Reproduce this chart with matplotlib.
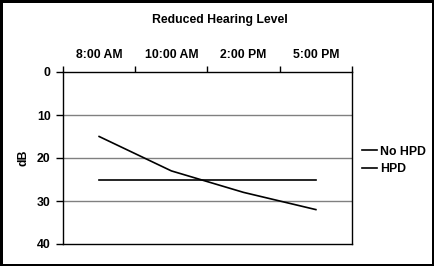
import matplotlib
matplotlib.use("Agg")
import matplotlib.pyplot as plt
import numpy as np

categories = ["8:00 AM", "10:00 AM", "2:00 PM", "5:00 PM"]
no_hpd = [15, 23, 28, 32]
hpd = [25, 25, 25, 25]
y_ticks = [0, 10, 20, 30, 40]

plt.rcParams['font.family'] = ['Liberation Sans', 'DejaVu Sans']
plt.rcParams['font.weight'] = 'bold'
fs = 8.8

fig = plt.figure(figsize=(4.34, 2.66), dpi=100)
fig.patch.set_edgecolor('black')
fig.patch.set_linewidth(2.5)
ax = fig.add_axes([63/434, 1-244/266, (352-63)/434, (244-72)/266])

x = np.arange(len(categories))
ax.plot(x, no_hpd, color='black', lw=1.2, label='No HPD')
ax.plot(x, hpd, color='black', lw=1.2, label='HPD')

ax.set_xlim(-0.5, len(categories)-0.5)
ax.set_ylim(40, 0)
ax.set_yticks(y_ticks)
ax.set_yticklabels([str(v) for v in y_ticks], fontsize=fs, fontweight='bold')
for v in y_ticks[1:-1]:
    ax.axhline(v, color='#808080', lw=1, zorder=0)

ax.xaxis.tick_top()
ax.set_xticks(np.arange(len(categories)+1)-0.5)
ax.set_xticklabels([])
ax.set_xticks(x, minor=True)
ax.set_xticklabels(categories, minor=True, fontsize=fs, fontweight='bold')
ax.tick_params(axis='x', which='major', length=4, width=1, direction='out')
ax.tick_params(axis='x', which='minor', length=0, pad=8)
ax.tick_params(axis='y', length=5, width=1, direction='out', pad=4)
for s in ax.spines.values():
    s.set_linewidth(1)
    s.set_color('black')

ax.set_ylabel('dB', fontsize=fs, fontweight='bold', labelpad=5)
fig.text(220/434, 1-20/266, 'Reduced Hearing Level', ha='center', va='center',
         fontsize=fs, fontweight='bold')

leg = fig.legend(loc='center left', bbox_to_anchor=(362/434, 1-160.5/266), frameon=False,
                 fontsize=fs, handlelength=1.25, handletextpad=0.2, labelspacing=0.45,
                 borderpad=0, borderaxespad=0)
for t in leg.get_texts():
    t.set_fontweight('bold')

fig.savefig('out.png', dpi=100, edgecolor=fig.get_edgecolor())
